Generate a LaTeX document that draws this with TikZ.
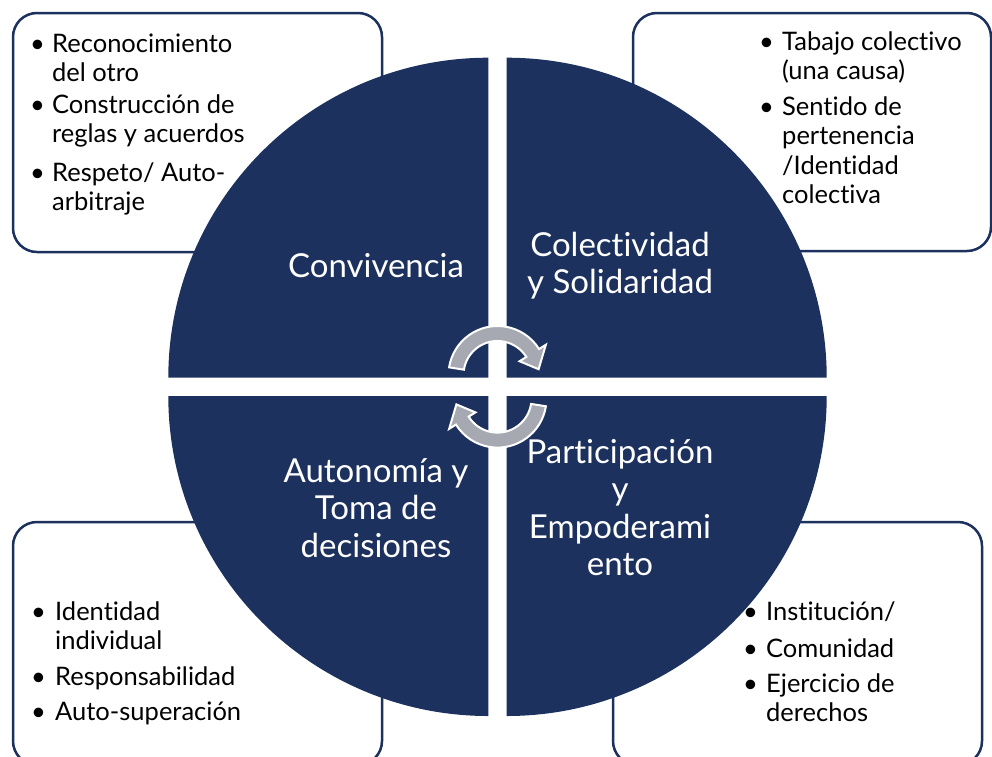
\documentclass[tikz,border=0pt]{standalone}
\usepackage{fontspec}
\setmainfont[Ligatures=NoCommon]{Lato}
\definecolor{navy}{RGB}{28,49,94}
\definecolor{arrowgray}{RGB}{166,169,177}
\begin{document}
\begin{tikzpicture}[x=1pt,y=-1pt,
  infobox/.style={draw=navy, line width=2.5pt, rounded corners=24pt, fill=white, anchor=north west, inner sep=0pt, outer sep=0pt},
  quarter/.style={fill=navy},
  bitem/.style={anchor=base west, inner sep=0pt, font=\fontsize{25.5}{29.5}\selectfont, text=black},
  qlabel/.style={anchor=base, inner sep=0pt, font=\fontsize{33}{37.5}\selectfont, text=white},
  cyc/.style={fill=arrowgray, draw=white, line width=2pt, line join=miter}]
\useasboundingbox (0,0) rectangle (992,756);
\clip (0,0) rectangle (992,756);
\fill[white] (0,0) rectangle (992,756);

% boxes
\node[infobox, minimum width=369pt, minimum height=239pt] (tlbox) at (13,13) {};
\node[infobox, minimum width=358pt, minimum height=238pt] (trbox) at (633,13) {};
\node[infobox, minimum width=369pt, minimum height=243pt] (blbox) at (13,522) {};
\node[infobox, minimum width=369pt, minimum height=243pt] (brbox) at (613,522) {};

% box texts
\node[bitem] (tl1) at (30,52) {\begin{tabular}[t]{@{}p{22pt}@{}l@{}}\textbullet & Reconocimiento\\ & del otro\end{tabular}};
\node[bitem] (tl2) at (30,113) {\begin{tabular}[t]{@{}p{22pt}@{}l@{}}\textbullet & Construcción de\\ & reglas y acuerdos\end{tabular}};
\node[bitem] (tl3) at (30,181) {\begin{tabular}[t]{@{}p{22pt}@{}l@{}}\textbullet & Respeto/ Auto-\\ & arbitraje\end{tabular}};

\node[bitem] (tr1) at (759,50) {\begin{tabular}[t]{@{}p{23pt}@{}l@{}}\textbullet & Tabajo colectivo\\ & (una causa)\end{tabular}};
\node[bitem] (tr2) at (759,115) {\begin{tabular}[t]{@{}p{23pt}@{}l@{}}\textbullet & Sentido de\\ & pertenencia\\ & /Identidad\\ & colectiva\end{tabular}};

\node[bitem] (bl1) at (31,620) {\begin{tabular}[t]{@{}p{24pt}@{}l@{}}\textbullet & Identidad\\ & individual\end{tabular}};
\node[bitem] (bl2) at (31,685) {\begin{tabular}[t]{@{}p{24pt}@{}l@{}}\textbullet & Responsabilidad\end{tabular}};
\node[bitem] (bl3) at (31,720) {\begin{tabular}[t]{@{}p{24pt}@{}l@{}}\textbullet & Auto-superación\end{tabular}};

\node[bitem] (br1) at (743,620) {\begin{tabular}[t]{@{}p{23pt}@{}l@{}}\textbullet & Institución/\end{tabular}};
\node[bitem] (br2) at (743,657) {\begin{tabular}[t]{@{}p{23pt}@{}l@{}}\textbullet & Comunidad\end{tabular}};
\node[bitem] (br3) at (743,692) {\begin{tabular}[t]{@{}p{23pt}@{}l@{}}\textbullet & Ejercicio de\\ & derechos\end{tabular}};

% quarters
\fill[quarter] (488.3,377.7) -- ++(180:320) arc[start angle=180,end angle=270,radius=320] -- cycle;
\fill[quarter] (506.7,377.7) -- ++(270:320) arc[start angle=270,end angle=360,radius=320] -- cycle;
\fill[quarter] (506.7,396) -- ++(0:320) arc[start angle=0,end angle=90,radius=320] -- cycle;
\fill[quarter] (488.3,396) -- ++(90:320) arc[start angle=90,end angle=180,radius=320] -- cycle;

% labels
\node[qlabel] (conv) at (376,277) {Convivencia};
\node[qlabel] (cole) at (620,256) {\begin{tabular}[t]{@{}c@{}}Colectividad\\ y Solidaridad\end{tabular}};
\node[qlabel] (auto) at (376,482) {\begin{tabular}[t]{@{}c@{}}Autonomía y\\ Toma de\\ decisiones\end{tabular}};
\node[qlabel] (part) at (620,463) {\begin{tabular}[t]{@{}c@{}}Participación\\ y\\ Empoderami\\ ento\end{tabular}};

% cycle arrows
\begin{scope}[shift={(497.5,375)}]
\path[cyc] (189:49) arc[start angle=189,end angle=328,radius=49] -- (328:57) -- (352:41.5) -- (328:26) -- (328:34) arc[start angle=328,end angle=189,radius=34] -- cycle;
\end{scope}
\begin{scope}[shift={(497.5,398.6)}]
\path[cyc] (9:49) arc[start angle=9,end angle=148,radius=49] -- (148:57) -- (172:41.5) -- (148:26) -- (148:34) arc[start angle=148,end angle=9,radius=34] -- cycle;
\end{scope}
\end{tikzpicture}
\end{document}
